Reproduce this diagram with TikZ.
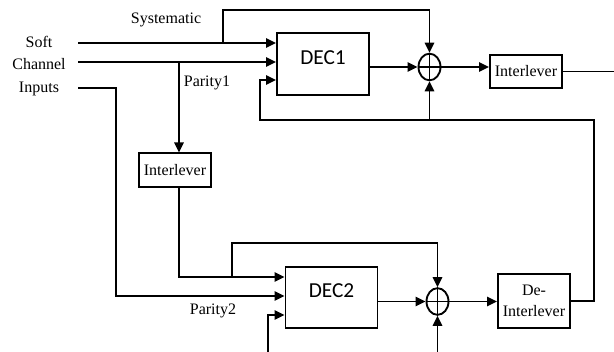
\documentclass[tikz,border=0pt]{standalone}
\usepackage{fontspec}
\setmainfont{Liberation Serif}
\newfontfamily\calibri{Carlito}
\usetikzlibrary{arrows.meta, shapes.geometric, positioning}

\begin{document}
\begin{tikzpicture}[x=0.75pt, y=-0.75pt, line width=1.4pt,
    >={Triangle[length=7.5pt, width=7pt]},
    font=\fontsize{12}{14.5}\selectfont,
    block/.style={draw, rectangle, minimum width=54pt, inner sep=1pt, align=center},
    dec/.style={draw, rectangle, minimum width=69pt, minimum height=46pt, text depth=10pt, font=\calibri\fontsize{16}{18}\selectfont},
    adder/.style={draw, ellipse, minimum width=16.5pt, minimum height=20pt, inner sep=0pt}]
    \useasboundingbox (0,0) rectangle (614,352);

    % 1. Các khối giải mã, bộ cộng và bộ xáo trộn
    \node[dec] (dec1) at (323, 64) {DEC1};
    \node[dec] (dec2) at (331.5, 297.5) {DEC2};
    \node[adder] (add1) at (429.5, 67) {};
    \node[adder] (add2) at (437.5, 301.5) {};
    \node[block, minimum height=24.5pt] (il1) at (526, 71.5) {Interlever};
    \node[block, minimum height=25pt] (il2) at (175, 170) {Interlever};
    \node[block, minimum height=40.5pt, font=\fontsize{12}{15.75}\selectfont] (deil) at (534, 301) {De-\\Interlever};

    % Dấu cộng trong bộ cộng
    \foreach \a in {add1, add2} {
        \draw (\a.north) -- (\a.south) (\a.west) -- (\a.east);
    }

    % 2. Nhãn đầu vào
    \node[align=center, font=\fontsize{12}{16.9}\selectfont] (soft) at (39, 66) {Soft\\Channel\\Inputs};
    \node (sys) at (166, 20) {Systematic};
    \node (par1) at (207, 83) {Parity1};
    \node (par2) at (213, 311) {Parity2};

    % Các điểm đầu tự do và điểm rẽ nhánh
    \coordinate (s) at (78, 43);
    \coordinate (c) at (78, 62);
    \coordinate (i) at (78, 88);
    \coordinate (sb) at (223, 43);
    \coordinate (p1) at (179, 62);
    \coordinate (b2) at (232, 277);
    \coordinate (fb2) at (268, 352);
    \coordinate (fb3) at (437.5, 352);

    % 3. Nhánh DEC1
    \draw[->] (s) -- (s -| dec1.west);
    \draw[->] (c) -- (c -| dec1.west);
    \draw[->] (sb) -- ++(0,-33) -| (add1.north);
    \draw[->] (dec1.east |- add1.west) -- (add1.west);
    \draw[->] (add1.east) -- (add1.east -| il1.west);
    \draw (il1.east) -- ++(52,0);
    \draw[->] (deil.east) -- ++(23,0) |- (260,120) |- (dec1.west |- 0,80);
    \draw[->] (add1.south |- 0,120) -- (add1.south);

    % 4. Nhánh DEC2
    \draw[->] (p1) -- (p1 |- il2.north);
    \draw[->] (il2.south -| p1) |- (dec2.west |- b2);
    \draw[->] (b2) -- ++(0,-34) -| (add2.north);
    \draw[->] (i) -| (116,296) -- (dec2.west |- 0,296);
    \draw[->] (fb2) |- (dec2.west |- 0,315);
    \draw[->] (dec2.east |- add2.west) -- (add2.west);
    \draw[->] (fb3) -- (add2.south);
    \draw[->] (add2.east) -- (add2.east -| deil.west);

\end{tikzpicture}
\end{document}
